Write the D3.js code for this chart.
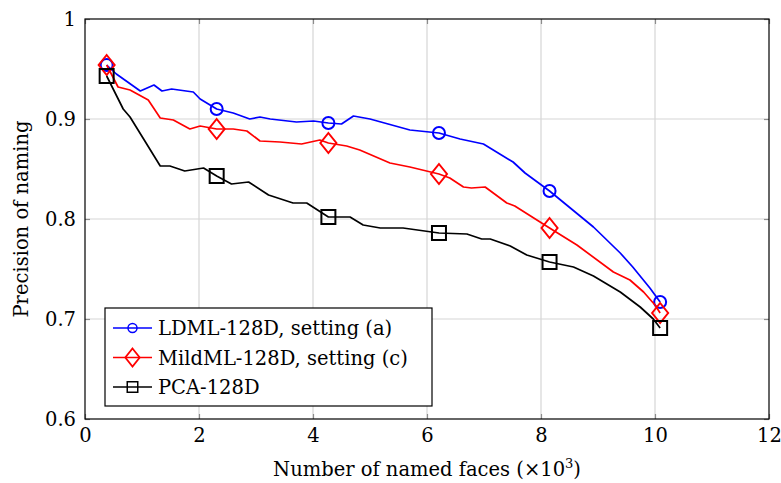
<!DOCTYPE html>
<html>
<head>
<meta charset="utf-8">
<script src="https://cdn.jsdelivr.net/npm/d3@7"></script>
<style>
  body { margin: 0; background: #fff; }
  text { font-family: "DejaVu Serif", "Liberation Serif", serif; fill: #000; }
</style>
</head>
<body>
<script>
// data (x in thousands of named faces)
var ldmlX = [0.38, 0.55, 0.97, 1.21, 1.35, 1.52, 1.90, 2.02, 2.31, 2.60, 2.89, 3.07, 3.25, 3.71, 4.01, 4.27, 4.50, 4.71, 5.00, 5.70, 6.21, 6.58, 6.99, 7.51, 7.72, 8.15, 8.92, 9.39, 9.61, 9.91, 10.09];
var ldmlY = [0.954, 0.945, 0.928, 0.934, 0.928, 0.930, 0.927, 0.920, 0.910, 0.906, 0.900, 0.902, 0.900, 0.897, 0.898, 0.896, 0.895, 0.903, 0.900, 0.889, 0.886, 0.880, 0.875, 0.857, 0.846, 0.828, 0.792, 0.766, 0.752, 0.731, 0.717];

var mildX = [0.38, 0.58, 0.79, 1.11, 1.32, 1.55, 1.84, 2.02, 2.31, 2.60, 2.84, 3.07, 3.42, 3.80, 4.12, 4.27, 4.59, 4.82, 5.35, 5.70, 6.21, 6.40, 6.64, 6.78, 7.02, 7.40, 7.54, 8.15, 8.63, 9.27, 9.56, 9.80, 10.00, 10.09];
var mildY = [0.954, 0.932, 0.929, 0.919, 0.901, 0.899, 0.890, 0.893, 0.890, 0.890, 0.888, 0.878, 0.877, 0.875, 0.879, 0.876, 0.873, 0.869, 0.856, 0.852, 0.845, 0.841, 0.832, 0.831, 0.832, 0.816, 0.813, 0.791, 0.774, 0.747, 0.739, 0.727, 0.714, 0.706];

var pcaX = [0.38, 0.67, 0.79, 1.05, 1.32, 1.49, 1.75, 2.08, 2.31, 2.57, 2.87, 3.22, 3.65, 3.89, 4.27, 4.65, 4.88, 5.18, 5.58, 6.21, 6.70, 6.96, 7.11, 7.46, 7.75, 8.15, 8.57, 8.92, 9.39, 9.74, 9.97, 10.09];
var pcaY = [0.943, 0.910, 0.902, 0.878, 0.853, 0.853, 0.848, 0.851, 0.843, 0.835, 0.837, 0.824, 0.816, 0.816, 0.802, 0.802, 0.794, 0.791, 0.791, 0.786, 0.785, 0.780, 0.780, 0.773, 0.764, 0.757, 0.752, 0.743, 0.727, 0.712, 0.700, 0.691];

// x positions where the marks sit
var markX = [0.38, 2.31, 4.27, 6.21, 8.15, 10.09];

var xTicks = [0, 2, 4, 6, 8, 10, 12];
var yTicks = [0.6, 0.7, 0.8, 0.9, 1];

var seriesNames = ["LDML-128D, setting (a)", "MildML-128D, setting (c)", "PCA-128D"];
var seriesColors = ["#0000ff", "#ff0000", "#000000"];
var seriesMarks = ["circle", "diamond", "square"];

var fontSize = "19.5px";

var margin = {top: 19, right: 12, bottom: 64, left: 85},
    width = 781 - margin.left - margin.right,
    height = 483 - margin.top - margin.bottom;

var svg = d3.select("body").append("svg")
    .attr("width", 781)
    .attr("height", 483);

var g = svg.append("g")
    .attr("transform", "translate(" + margin.left + "," + margin.top + ")");

var x = d3.scaleLinear().domain([0, 12]).range([0, width]);
var y = d3.scaleLinear().domain([0.6, 1]).range([height, 0]);

// grid
g.selectAll(".gx").data(xTicks.slice(1, -1)).enter().append("line")
    .attr("x1", function(d) { return x(d); }).attr("x2", function(d) { return x(d); })
    .attr("y1", 0).attr("y2", height)
    .attr("stroke", "#d6d6d6").attr("stroke-width", 1.2);
g.selectAll(".gy").data(yTicks.slice(1, -1)).enter().append("line")
    .attr("y1", function(d) { return y(d); }).attr("y2", function(d) { return y(d); })
    .attr("x1", 0).attr("x2", width)
    .attr("stroke", "#d6d6d6").attr("stroke-width", 1.2);

// axes, ticks pointing inward on all sides
var xb = g.append("g").attr("transform", "translate(0," + height + ")")
    .call(d3.axisBottom(x).tickValues(xTicks).tickSizeInner(-5).tickSizeOuter(0).tickPadding(9));
var xt = g.append("g")
    .call(d3.axisTop(x).tickValues(xTicks).tickSizeInner(-5).tickSizeOuter(0).tickFormat(""));
var yl = g.append("g")
    .call(d3.axisLeft(y).tickValues(yTicks).tickSizeInner(-5).tickSizeOuter(0).tickPadding(9)
      .tickFormat(function(d) { return d === 1 ? "1" : d3.format(".1f")(d); }));
var yr = g.append("g").attr("transform", "translate(" + width + ",0)")
    .call(d3.axisRight(y).tickValues(yTicks).tickSizeInner(-5).tickSizeOuter(0).tickFormat(""));

[xb, xt, yl, yr].forEach(function(a) {
  a.select(".domain").remove();
  a.selectAll(".tick line").attr("stroke", "#8c8c8c").attr("stroke-width", 1.2);
  a.selectAll(".tick text").style("font-family", "DejaVu Serif").style("font-size", fontSize).attr("fill", "#000");
});

g.append("rect")
    .attr("x", 0).attr("y", 0).attr("width", width).attr("height", height)
    .attr("fill", "none").attr("stroke", "#000").attr("stroke-width", 1.2);

// marker drawing
function drawMark(sel, kind, color) {
  if (kind === "circle") {
    sel.append("circle").attr("r", 6).attr("fill", "none").attr("stroke", color).attr("stroke-width", 2);
  } else if (kind === "diamond") {
    sel.append("path").attr("d", "M0,-10L8,0L0,10L-8,0Z").attr("fill", "none").attr("stroke", color).attr("stroke-width", 2);
  } else {
    sel.append("rect").attr("x", -7).attr("y", -7).attr("width", 14).attr("height", 14)
      .attr("fill", "none").attr("stroke", color).attr("stroke-width", 2);
  }
}

var line = d3.line()
    .x(function(d) { return x(d[0]); })
    .y(function(d) { return y(d[1]); });

var allX = [ldmlX, mildX, pcaX];
var allY = [ldmlY, mildY, pcaY];

allX.forEach(function(xs, i) {
  var pts = xs.map(function(v, k) { return [v, allY[i][k]]; });
  g.append("path").datum(pts)
    .attr("d", line)
    .attr("fill", "none")
    .attr("stroke", seriesColors[i])
    .attr("stroke-width", 1.7)
    .attr("stroke-linejoin", "round");
  var marks = pts.filter(function(p) { return markX.indexOf(p[0]) >= 0; });
  g.selectAll(".m" + i).data(marks).enter().append("g")
    .attr("transform", function(d) { return "translate(" + x(d[0]) + "," + y(d[1]) + ")"; })
    .each(function() { drawMark(d3.select(this), seriesMarks[i], seriesColors[i]); });
});

// legend
var leg = svg.append("g").attr("transform", "translate(105,308)");
leg.append("rect").attr("width", 327).attr("height", 98)
    .attr("fill", "#fff").attr("stroke", "#000").attr("stroke-width", 1.2);
seriesNames.forEach(function(name, i) {
  var row = leg.append("g").attr("transform", "translate(0," + (20 + i * 29.5) + ")");
  row.append("line").attr("x1", 8).attr("x2", 47).attr("y1", 0).attr("y2", 0)
    .attr("stroke", seriesColors[i]).attr("stroke-width", 1.7);
  var sc = seriesMarks[i] === "diamond" ? 0.9 : 0.75;
  var mk = row.append("g").attr("transform", "translate(27.5,0) scale(" + sc + ")");
  drawMark(mk, seriesMarks[i], seriesColors[i]);
  row.append("text").attr("x", 53).attr("y", 0).attr("dy", "0.36em")
    .style("font-size", fontSize).text(name);
});

// axis titles
var xl = svg.append("text")
    .attr("x", margin.left + width / 2).attr("y", 476)
    .attr("text-anchor", "middle").style("font-size", fontSize);
xl.append("tspan").text("Number of named faces (\u00d710");
xl.append("tspan").attr("dy", -8).style("font-size", "13px").text("3");
xl.append("tspan").attr("dy", 8).text(")");

svg.append("text")
    .attr("transform", "translate(28," + (margin.top + height / 2) + ") rotate(-90)")
    .attr("text-anchor", "middle").style("font-size", fontSize)
    .text("Precision of naming");
</script>
</body>
</html>
